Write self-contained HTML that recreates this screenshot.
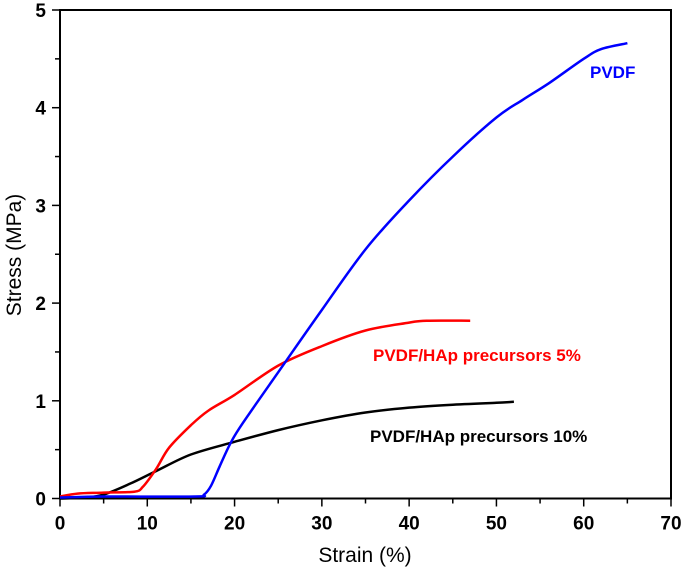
<!DOCTYPE html>
<html><head><meta charset="utf-8"><style>
body{margin:0;background:#fff}
svg{display:block;font-family:"Liberation Sans",Arial,sans-serif}
</style></head><body>
<svg id="chart" width="685" height="572"></svg>
<script>
const xTicks=[0,10,20,30,40,50,60,70];
const yTicks=[0,1,2,3,4,5];
const pvdfX=[0,5,15.5,16.5,17.3,18.3,19.5,21,26,30,35,40,45,50,53,56,60,62,65];
const pvdfY=[0.01,0.02,0.02,0.04,0.13,0.33,0.56,0.78,1.42,1.93,2.55,3.05,3.5,3.9,4.08,4.25,4.5,4.6,4.66];
const hap5X=[0,2,5,8.5,9.5,11,12.5,15,17,20,25,30,35,40,42,47];
const hap5Y=[0.02,0.05,0.06,0.07,0.12,0.3,0.52,0.75,0.9,1.06,1.36,1.56,1.72,1.8,1.82,1.82];
const hap10X=[0,3,5,8,11,15,20,25,30,35,40,45,50,52];
const hap10Y=[0,0.01,0.04,0.15,0.28,0.45,0.58,0.7,0.8,0.88,0.93,0.96,0.98,0.99];
const NS="http://www.w3.org/2000/svg";
const svg=document.getElementById('chart');
const X0=60,X1=671,Y0=498.5,Y1=10;
const sx=v=>X0+(v/70)*(X1-X0);
const sy=v=>Y0-(v/5)*(Y0-Y1);
function el(t,a,txt){const e=document.createElementNS(NS,t);for(const k in a)e.setAttribute(k,a[k]);if(txt!==undefined)e.textContent=txt;svg.appendChild(e);return e;}
const frame=el('rect',{x:X0,y:Y1,width:X1-X0,height:Y0-Y1,fill:'none',stroke:'#000','stroke-width':2});


for(let i=0;i<=14;i++){const v=i*5;const big=i%2===0;
 const t=el('line',{x1:sx(v),x2:sx(v),y1:Y0,y2:Y0+(big?8:5),stroke:'#000','stroke-width':1.5});
 
 }
xTicks.forEach(v=>{const t=el('text',{x:sx(v),y:Y0+31,'text-anchor':'middle','font-size':19,'font-weight':'bold'},v);
 
 });
for(let i=0;i<=10;i++){const v=i*0.5;const big=i%2===0;
 const t=el('line',{x1:X0,x2:X0-(big?8:5),y1:sy(v),y2:sy(v),stroke:'#000','stroke-width':1.5});
 
 }
yTicks.forEach(v=>{const t=el('text',{x:X0-14,y:sy(v)+7,'text-anchor':'end','font-size':19,'font-weight':'bold'},v);
 
 });
const xt=el('text',{x:365,y:562,'text-anchor':'middle','font-size':21},'Strain (%)');


const yt=el('text',{x:0,y:0,transform:'translate(21,255) rotate(-90)','text-anchor':'middle','font-size':21},'Stress (MPa)');


function series(xs,ys,c,name){
 const P=xs.map((x,i)=>[sx(x),sy(ys[i])]);
 let d='M'+P[0][0].toFixed(1)+','+P[0][1].toFixed(1);
 for(let i=0;i<P.length-1;i++){
  const p0=P[Math.max(i-1,0)],p1=P[i],p2=P[i+1],p3=P[Math.min(i+2,P.length-1)];
  const c1=[p1[0]+(p2[0]-p0[0])/6,p1[1]+(p2[1]-p0[1])/6];
  const c2=[p2[0]-(p3[0]-p1[0])/6,p2[1]-(p3[1]-p1[1])/6];
  d+=' C'+c1[0].toFixed(1)+','+c1[1].toFixed(1)+' '+c2[0].toFixed(1)+','+c2[1].toFixed(1)+' '+p2[0].toFixed(1)+','+p2[1].toFixed(1);
 }
 const p=el('path',{d:d,fill:'none',stroke:c,'stroke-width':2.5,'stroke-linejoin':'round'});
 
 }
series(hap10X,hap10Y,'#000','line-pvdf-hap-10');
series(hap5X,hap5Y,'#ff0000','line-pvdf-hap-5');
series(pvdfX,pvdfY,'#0000ff','line-pvdf');
const l1=el('text',{x:590,y:78,'font-size':17,'font-weight':'bold',fill:'#0000ff'},'PVDF');


const l2=el('text',{x:373,y:361,'font-size':17,'font-weight':'bold',fill:'#ff0000'},'PVDF/HAp precursors 5%');


const l3=el('text',{x:370,y:442,'font-size':17,'font-weight':'bold',fill:'#000'},'PVDF/HAp precursors 10%');


</script>
</body></html>
